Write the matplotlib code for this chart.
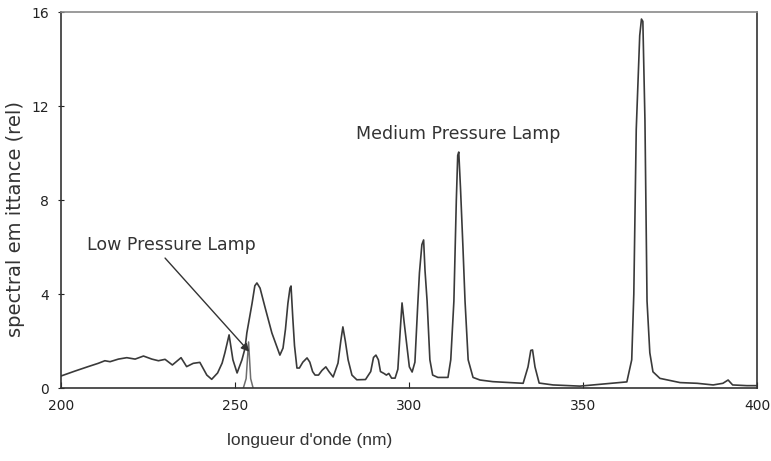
import matplotlib
matplotlib.use("Agg")
import matplotlib.pyplot as plt

# Medium pressure lamp spectrum (wavelength nm, relative emittance)
mp_wavelength = [
    200, 204, 207.8, 210.7, 212.6, 214.1, 216.5, 218.9, 221.3, 223.7, 226.1, 228, 229.9,
    232, 234.5, 236.1, 238, 239.9, 241.4, 241.9, 243.3, 245, 246.3, 247.1, 248.3, 249.4,
    250.6, 252, 252.9, 253.4, 254.9, 255.7, 256.3, 257.2, 258.6, 260.6, 262.9, 263.8, 264.5, 265.2,
    265.8, 266.1, 266.6, 267.1, 267.8, 268.5, 269.5, 270.7, 271.5, 272.3, 273, 274, 275, 276.1,
    277, 278.2, 279.6, 280.4, 281, 281.7, 282.5, 283.6, 285, 287.5, 289, 289.8, 290.5,
    291.2, 291.8, 292.8, 293.5, 294.2, 295, 296, 296.8, 297.5, 298, 298.6, 299.3, 300.1,
    300.9, 301.7, 302.5, 303, 303.7, 304.2, 304.6, 305.2, 306, 306.8, 308.3, 311.2, 312, 312.9,
    313.6, 314.0, 314.3, 314.8, 315.5, 316.1, 317, 318.4, 320.4, 324.1, 332.8, 334.2, 335.0, 335.5,
    336.2, 337.4, 341.4, 349.1, 355.7, 362.6, 364, 364.6, 365.3, 366.3, 366.8, 367.2, 367.8,
    368.4, 369.2, 370.1, 372.1, 377.9, 382.8, 387.4, 390.2, 391.7, 393, 397.1, 400,
]
mp_emittance = [
    0.51, 0.72, 0.91, 1.05, 1.16, 1.12, 1.23, 1.29, 1.23, 1.36, 1.23, 1.16, 1.22,
    0.98, 1.29, 0.91, 1.05, 1.09, 0.68, 0.55, 0.37, 0.64, 1.06, 1.5, 2.26, 1.2,
    0.64, 1.2, 1.7, 2.34, 3.6, 4.35, 4.47, 4.25, 3.45, 2.34, 1.4, 1.7, 2.5, 3.6,
    4.25, 4.34, 3.0, 1.8, 0.85, 0.85, 1.1, 1.28, 1.1, 0.7, 0.55, 0.55, 0.75, 0.9,
    0.7, 0.47, 1.06, 2.0, 2.6, 2.0, 1.2, 0.55, 0.35, 0.36, 0.7, 1.3, 1.4,
    1.2, 0.7, 0.62, 0.55, 0.62, 0.42, 0.42, 0.8, 2.5, 3.62, 2.8, 1.9, 0.9,
    0.68, 1.1, 3.5, 4.9, 6.1, 6.3, 5.0, 3.7, 1.2, 0.55, 0.45, 0.45, 1.2, 3.7,
    8.0, 9.9, 10.04, 8.5, 6.0, 3.7, 1.2, 0.45, 0.34, 0.27, 0.2, 0.9, 1.6, 1.62,
    0.9, 0.21, 0.13, 0.08, 0.17, 0.26, 1.2, 4.0, 11.0, 15.0, 15.7, 15.6, 11.4,
    3.7, 1.5, 0.69, 0.41, 0.23, 0.2, 0.13, 0.2, 0.34, 0.13, 0.1, 0.1,
]

# Low pressure lamp line (254 nm)
lp_wavelength = [252.4, 253.2, 253.9, 254.5, 255.2]
lp_emittance = [0.0, 0.4, 1.96, 0.4, 0.0]

x_ticks = [200, 250, 300, 350, 400]
y_ticks = [0, 4, 8, 12, 16]

fig = plt.figure(figsize=(7.71, 4.61), dpi=100)
ax = fig.add_axes([61 / 771, 73 / 461, 696 / 771, 376 / 461])

ax.plot(lp_wavelength, lp_emittance, color="#6e6e6e", lw=1.1)
ax.plot(mp_wavelength, mp_emittance, color="#3a3a3a", lw=1.2)

ax.set_xlim(200, 400)
ax.set_ylim(0, 16)
ax.set_xticks(x_ticks)
ax.set_yticks(y_ticks)
ax.tick_params(axis="x", direction="in", length=4, pad=8, labelsize=10,
               colors="#222222")
ax.tick_params(axis="y", direction="inout", length=5, pad=6, labelsize=10,
               colors="#222222")

for side in ["left", "bottom", "right"]:
    ax.spines[side].set_color("#333333")
    ax.spines[side].set_linewidth(1.2)
ax.spines["top"].set_color("#8a8a8a")
ax.spines["top"].set_linewidth(1.2)

ax.text(314, 10.8, "Medium Pressure Lamp", ha="center", va="center",
        fontsize=12.5, color="#333333")
ax.text(231.8, 6.1, "Low Pressure Lamp", ha="center", va="center",
        fontsize=12.5, color="#333333")
ax.annotate("", xy=(254.1, 1.54), xytext=(229.9, 5.53),
            arrowprops=dict(arrowstyle="-|>", color="#333333", lw=1.0,
                            mutation_scale=12, shrinkA=0, shrinkB=0))

fig.text(310 / 771, 1 - 440 / 461, "longueur d'onde (nm)", ha="center",
         va="center", fontsize=12.5, family="Liberation Sans", color="#333333")
fig.text(15.5 / 771, 1 - 219 / 461, "spectral em ittance (rel)", ha="center",
         va="center", rotation=90, fontsize=14, color="#333333")

fig.savefig("out.png", dpi=100)
